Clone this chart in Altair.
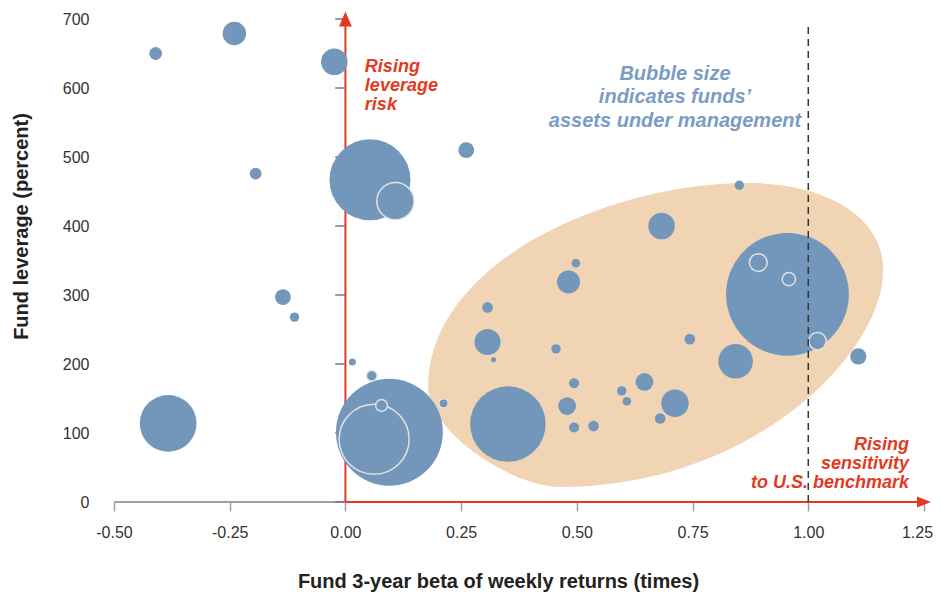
import altair as alt
import pandas as pd

FONT = "Liberation Sans"
BLUE = "#7397BB"
RED = "#E23A22"
TAN = "#F0D4B4"
TEXT_BLUE = "#7B9CC3"

# ---- data: plain bubbles (beta, leverage %, assets under management) ----
beta = [-0.41, -0.24, -0.024, 0.053, -0.194, -0.135, -0.110, 0.261, -0.383, 0.015, 0.095,
        0.351, 0.307, 0.320, 0.307, 0.455, 0.494, 0.479, 0.494, 0.536, 0.597, 0.608, 0.646,
        0.712, 0.680, 0.744, 0.843, 0.955, 1.108, 0.851, 0.683, 0.498, 0.482]
leverage = [650, 679, 638, 467, 476, 297, 268, 510, 114, 203, 101,
            113, 232, 206, 282, 222, 172, 139, 108, 110, 161, 146, 174,
            143, 121, 236, 204, 301, 211, 459, 400, 346, 319]
aum = [13, 44, 56, 522, 11, 20, 7, 20, 256, 4, 909,
       454, 54, 2, 9, 7, 8, 25, 8, 9, 7, 6, 25,
       60, 9, 9, 95, 1200, 21, 7, 56, 6, 42]

# ---- outlined bubbles (drawn on top) ----
o_beta = [0.062, 0.108, 0.892, 1.020, 0.958, 0.078, 0.057, 0.212]
o_leverage = [91, 436, 347, 233, 323, 140, 183, 143]
o_aum = [390, 110, 25, 24, 14, 11, 9, 7]

x_ticks = [-0.5, -0.25, 0.0, 0.25, 0.5, 0.75, 1.0, 1.25]
y_ticks = [0, 100, 200, 300, 400, 500, 600, 700]

# highlighted region centre, in data units
region = pd.DataFrame({"beta": [0.669], "leverage": [242]})

bubbles = pd.DataFrame({"beta": beta, "leverage": leverage, "aum": aum})
outlined = pd.DataFrame({"beta": o_beta, "leverage": o_leverage, "aum": o_aum})

xs = alt.Scale(domain=[-0.5, 1.25], nice=False, zero=False)
ys = alt.Scale(domain=[0, 700], nice=False)
ss = alt.Scale(domain=[0, 1200], range=[0, 15080])

x_axis = alt.Axis(
    values=x_ticks,
    labelExpr="datum.value < 0 ? '-' + format(-datum.value, '.2f') : format(datum.value, '.2f')",
    domain=False, grid=False, ticks=True, tickColor="#A0A0A0", tickSize=9, tickWidth=1.5,
    labelFont=FONT, labelFontSize=16, labelColor="#333333", labelPadding=13, labelFlush=False,
    labelOffset={"condition": {"test": "datum.value > 1.2", "value": -7}, "value": 0},
    title="Fund 3-year beta of weekly returns (times)",
    titleFont=FONT, titleFontSize=20, titleFontWeight="bold", titleColor="#222222",
    titleX=384, titleY=85, titleBaseline="alphabetic", titleAlign="center",
)
y_axis = alt.Axis(
    values=y_ticks, format="d",
    domain=False, grid=False, ticks=False, tickSize=0,
    labelFont=FONT, labelFontSize=16, labelColor="#333333", labelPadding=25, labelFlush=False,
    title="Fund leverage (percent)",
    titleFont=FONT, titleFontSize=20, titleFontWeight="bold", titleColor="#222222",
    titleX=-87, titleY=207, titleBaseline="alphabetic", titleAlign="center", titleAngle=270,
)

# egg-shaped highlight outline (symbol shape in unit coordinates)
EGG = ("M-0.946,0.217 C-0.946,-0.3 -0.2,-0.633 0.388,-0.633 "
       "C0.7,-0.633 0.95,-0.5 0.95,-0.271 "
       "C0.95,0.08 0.4,0.633 -0.396,0.633 "
       "C-0.6,0.633 -0.946,0.4 -0.946,0.217 Z")
egg = alt.Chart(region).mark_point(
    shape=EGG, filled=True, fill=TAN, opacity=1, size=230400, strokeWidth=0
).encode(
    x=alt.X("beta:Q", scale=xs, axis=x_axis),
    y=alt.Y("leverage:Q", scale=ys, axis=y_axis),
)

grey_dom = alt.Chart(pd.DataFrame({"a": [-0.5], "b": [0.0], "y": [0]})).mark_rule(
    color="#A0A0A0", strokeWidth=2
).encode(x="a:Q", x2="b:Q", y="y:Q")

red_h = alt.Chart(pd.DataFrame({"a": [0.0], "b": [1.25], "y": [0]})).mark_rule(
    color=RED, strokeWidth=2
).encode(x="a:Q", x2="b:Q", y="y:Q")

red_v = alt.Chart(pd.DataFrame({"x": [0.0], "a": [0], "b": [700]})).mark_rule(
    color=RED, strokeWidth=2
).encode(x="x:Q", y="a:Q", y2="b:Q")

ytick_df = pd.DataFrame({"a": [-0.022] * len(y_ticks), "b": [0.0] * len(y_ticks), "y": y_ticks})
yticks = alt.Chart(ytick_df).mark_rule(color="#777777", strokeWidth=1.5).encode(
    x="a:Q", x2="b:Q", y="y:Q"
)

plain = alt.Chart(bubbles).mark_circle(opacity=1, color=BLUE).encode(
    x="beta:Q", y="leverage:Q", size=alt.Size("aum:Q", scale=ss, legend=None)
)
outl = alt.Chart(outlined).mark_circle(
    opacity=1, fill=BLUE, stroke="#E2E2E2", strokeWidth=1.5
).encode(
    x="beta:Q", y="leverage:Q", size=alt.Size("aum:Q", scale=ss, legend=None)
)

dashed = alt.Chart(pd.DataFrame({"x": [1.0], "a": [0], "b": [695]})).mark_rule(
    color="#333333", strokeWidth=1.5, strokeDash=[7, 5]
).encode(x="x:Q", y="a:Q", y2="b:Q")

arrow_up = alt.Chart(pd.DataFrame({"x": [0.0], "y": [700]})).mark_point(
    shape="M-0.85,1 L0,-1 L0.85,1 Z", filled=True, fill=RED, opacity=1, size=225, strokeWidth=0
).encode(x="x:Q", y="y:Q")
arrow_right = alt.Chart(pd.DataFrame({"x": [1.25], "y": [0]})).mark_point(
    shape="M-1,-0.8 L1,0 L-1,0.8 Z", filled=True, fill=RED, opacity=1, size=196, strokeWidth=0
).encode(x="x:Q", y="y:Q")

t_lev = alt.Chart(pd.DataFrame({"x": [0.042], "y": [623.6]})).mark_text(
    text=["Rising", "leverage", "risk"], align="left", baseline="alphabetic", lineHeight=19,
    font=FONT, fontSize=18, fontStyle="italic", fontWeight="bold", color=RED
).encode(x="x:Q", y="y:Q")

t_bub = alt.Chart(pd.DataFrame({"x": [0.712], "y": [611.6]})).mark_text(
    text=["Bubble size", "indicates funds\u2019", "assets under management"],
    align="center", baseline="alphabetic", lineHeight=23.5,
    font=FONT, fontSize=20, fontStyle="italic", fontWeight="bold", color=TEXT_BLUE
).encode(x="x:Q", y="y:Q")

t_sens = alt.Chart(pd.DataFrame({"x": [1.2176], "y": [75.4]})).mark_text(
    text=["Rising", "sensitivity", "to U.S. benchmark"], align="right", baseline="alphabetic",
    lineHeight=19, font=FONT, fontSize=18, fontStyle="italic", fontWeight="bold", color=RED
).encode(x="x:Q", y="y:Q")

chart = alt.layer(
    egg, grey_dom, red_h, red_v, yticks, plain, outl, t_sens, dashed,
    t_lev, t_bub, arrow_up, arrow_right
).properties(
    width=810, height=483,
    autosize=alt.AutoSizeParams(type="none"),
    padding={"left": 106, "top": 11, "right": 9, "bottom": 92},
).configure_view(stroke=None)

chart.save("out.html", embed_options={"renderer": "svg", "actions": False})
